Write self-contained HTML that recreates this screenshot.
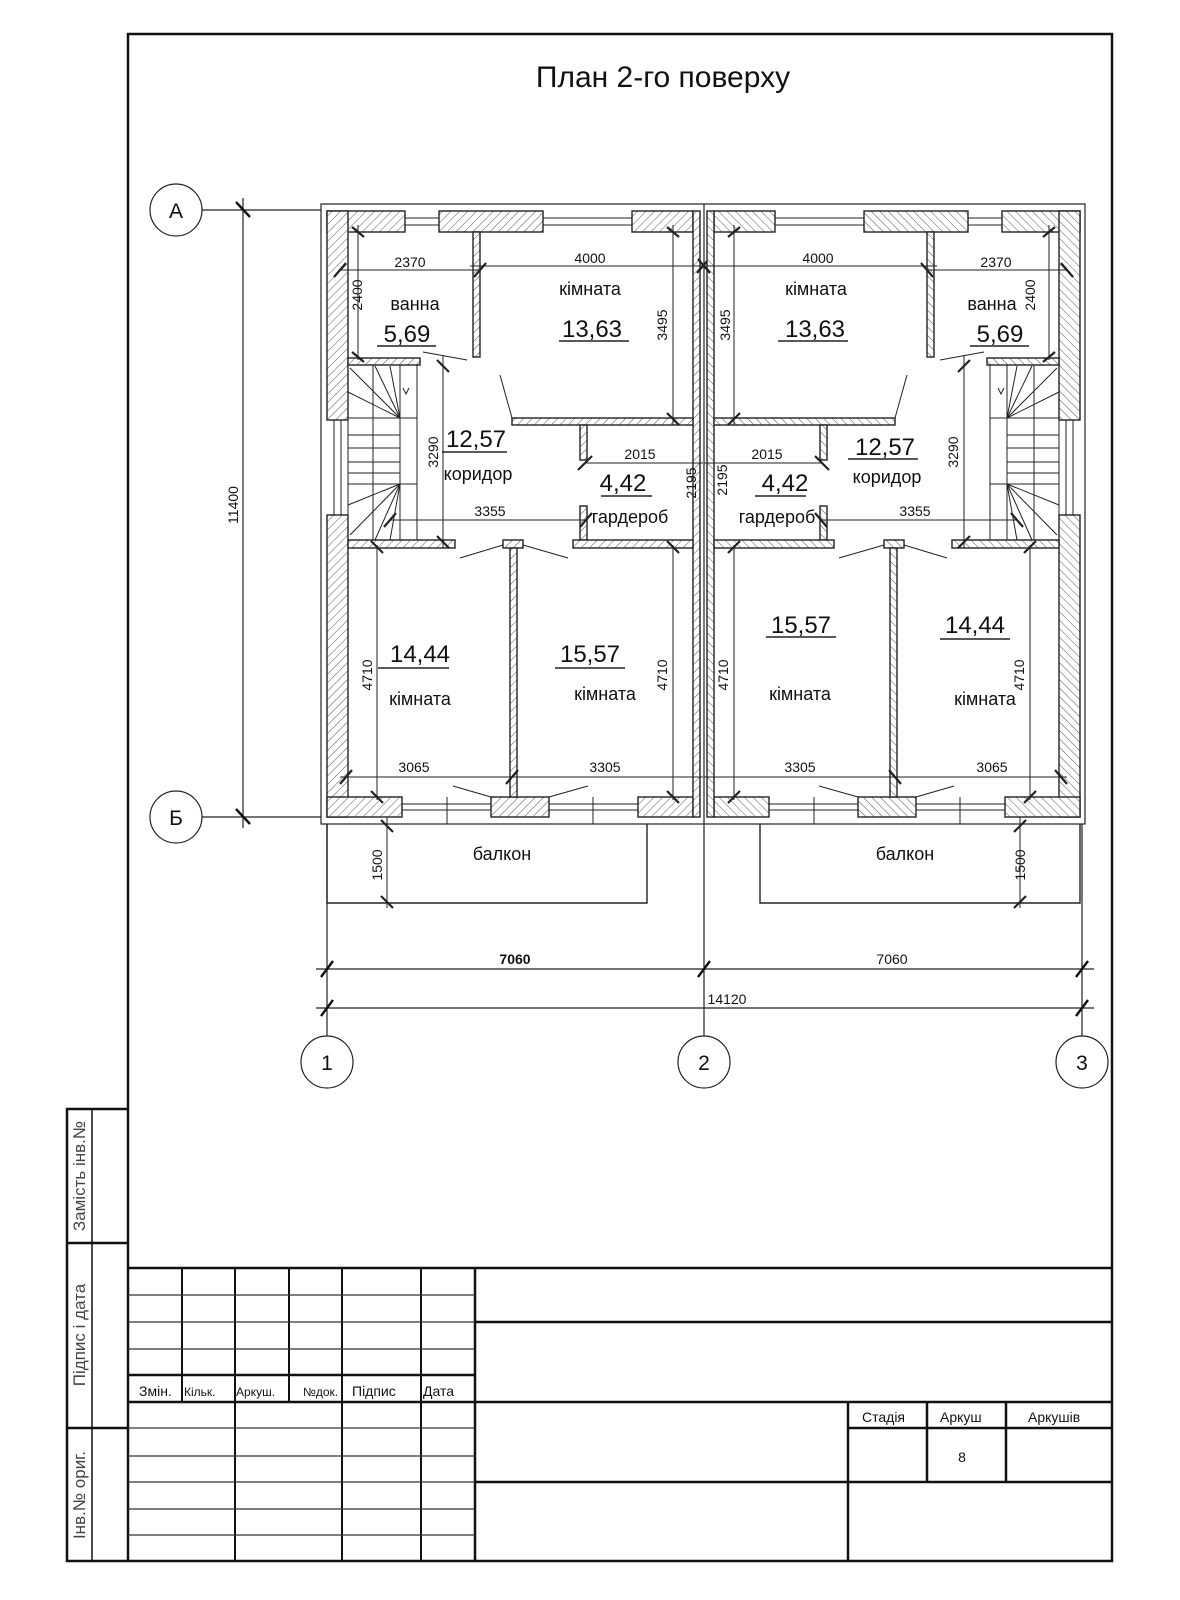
<!DOCTYPE html>
<html><head><meta charset="utf-8"><style>
html,body{margin:0;padding:0;background:#fff;}
svg{display:block;}
text{font-family:"Liberation Sans Narrow","Liberation Sans","DejaVu Sans",sans-serif;fill:#111;}
</style></head><body>
<svg width="1180" height="1600" viewBox="0 0 1180 1600" xmlns="http://www.w3.org/2000/svg">
<defs>
<pattern id="h" patternUnits="userSpaceOnUse" width="6" height="6" patternTransform="rotate(45)">
<rect width="6" height="6" fill="#fff"/><line x1="0" y1="0" x2="0" y2="6" stroke="#555" stroke-width="1"/>
</pattern>
</defs>
<rect width="1180" height="1600" fill="#fff"/>
<g fill="none" stroke="#111" stroke-width="2.5">
<polyline points="128,1561 128,34 1112,34 1112,1561 67,1561 67,1109 128,1109"/>
<line x1="67" y1="1243" x2="128" y2="1243"/>
<line x1="67" y1="1428" x2="128" y2="1428"/>
<line x1="92" y1="1109" x2="92" y2="1561" stroke-width="1.5"/>
<line x1="128" y1="1268" x2="1112" y2="1268"/>
<line x1="475" y1="1322" x2="1112" y2="1322"/>
<line x1="128" y1="1375" x2="475" y2="1375"/>
<line x1="128" y1="1402" x2="1112" y2="1402"/>
<line x1="475" y1="1482" x2="1112" y2="1482"/>
<line x1="848" y1="1428" x2="1112" y2="1428"/>
<line x1="475" y1="1268" x2="475" y2="1561"/>
<line x1="848" y1="1402" x2="848" y2="1561"/>
<line x1="927" y1="1402" x2="927" y2="1482"/>
<line x1="1006" y1="1402" x2="1006" y2="1482"/>
<line x1="182" y1="1268" x2="182" y2="1402" stroke-width="2"/>
<line x1="289" y1="1268" x2="289" y2="1402" stroke-width="2"/>
<line x1="235" y1="1268" x2="235" y2="1561" stroke-width="2"/>
<line x1="342" y1="1268" x2="342" y2="1561" stroke-width="2"/>
<line x1="421" y1="1268" x2="421" y2="1561" stroke-width="2"/>
</g>
<g stroke="#333" stroke-width="1.2">
<line x1="128" y1="1295" x2="475" y2="1295"/>
<line x1="128" y1="1322" x2="475" y2="1322"/>
<line x1="128" y1="1349" x2="475" y2="1349"/>
<line x1="128" y1="1428" x2="475" y2="1428"/>
<line x1="128" y1="1456" x2="475" y2="1456"/>
<line x1="128" y1="1482" x2="475" y2="1482"/>
<line x1="128" y1="1509" x2="475" y2="1509"/>
<line x1="128" y1="1535" x2="475" y2="1535"/>
</g>
<g font-size="14">
<text x="139" y="1396">Змін.</text>
<text x="184" y="1396" font-size="12">Кільк.</text>
<text x="236" y="1396" font-size="12">Аркуш.</text>
<text x="303" y="1396" font-size="12">№док.</text>
<text x="352" y="1396">Підпис</text>
<text x="423" y="1396">Дата</text>
<text x="862" y="1422">Стадія</text>
<text x="940" y="1422">Аркуш</text>
<text x="1028" y="1422">Аркушів</text>
<text x="962" y="1462" text-anchor="middle">8</text>
</g>
<g font-size="17">
<text transform="translate(85,1176) rotate(-90)" text-anchor="middle" style="fill:#444">Замість інв.№</text>
<text transform="translate(85,1335) rotate(-90)" text-anchor="middle" style="fill:#444">Підпис і дата</text>
<text transform="translate(85,1495) rotate(-90)" text-anchor="middle" style="fill:#444">Інв.№ ориг.</text>
</g>
<text x="663" y="87" font-size="30" text-anchor="middle">План 2-го поверху</text>

<rect x="321" y="204" width="764" height="620" fill="none" stroke="#222" stroke-width="1.2"/>

<g id="half" stroke="#222" stroke-width="1.4">
<g fill="url(#h)">
<rect x="327" y="211" width="78" height="21"/>
<rect x="439" y="211" width="104" height="21"/>
<rect x="632" y="211" width="61" height="21"/>
<rect x="327" y="211" width="21" height="209"/>
<rect x="327" y="515" width="21" height="302"/>
<rect x="327" y="797" width="75" height="20"/>
<rect x="491" y="797" width="58" height="20"/>
<rect x="638" y="797" width="55" height="20"/>
<rect x="693" y="211" width="7" height="606"/>
<rect x="473" y="232" width="7" height="125"/>
<rect x="512" y="418" width="181" height="7"/>
<rect x="348" y="358" width="72" height="7"/>
<rect x="580" y="425" width="7" height="35"/>
<rect x="580" y="506" width="7" height="34"/>
<rect x="348" y="540" width="107" height="8"/>
<rect x="503" y="540" width="20" height="8"/>
<rect x="573" y="540" width="120" height="8"/>
<rect x="510" y="548" width="7" height="249"/>
</g>
<g fill="none" stroke-width="1">
<line x1="405" y1="218" x2="439" y2="218"/><line x1="405" y1="225" x2="439" y2="225"/>
<line x1="543" y1="218" x2="632" y2="218"/><line x1="543" y1="225" x2="632" y2="225"/>
<line x1="334" y1="420" x2="334" y2="515"/><line x1="341" y1="420" x2="341" y2="515"/>
<line x1="402" y1="804" x2="491" y2="804"/><line x1="402" y1="810" x2="491" y2="810"/>
<line x1="549" y1="804" x2="638" y2="804"/><line x1="549" y1="810" x2="638" y2="810"/>
<line x1="447" y1="797" x2="447" y2="824"/><line x1="593" y1="797" x2="593" y2="824"/>
<rect x="348" y="365" width="69" height="175"/>
<line x1="373" y1="365" x2="373" y2="540"/><line x1="400" y1="365" x2="400" y2="540"/>
<line x1="348" y1="418" x2="417" y2="418"/><line x1="348" y1="484" x2="417" y2="484"/>
<line x1="348" y1="435" x2="400" y2="435"/><line x1="348" y1="448" x2="400" y2="448"/>
<line x1="348" y1="462" x2="400" y2="462"/><line x1="348" y1="473" x2="400" y2="473"/>
<line x1="400" y1="418" x2="348" y2="392"/><line x1="400" y1="418" x2="350" y2="368"/>
<line x1="400" y1="418" x2="375" y2="366"/><line x1="400" y1="418" x2="390" y2="366"/>
<line x1="400" y1="484" x2="348" y2="505"/><line x1="400" y1="484" x2="350" y2="535"/>
<line x1="400" y1="484" x2="375" y2="540"/><line x1="400" y1="484" x2="390" y2="540"/>
<polyline points="403,388 406,394 409,388"/>
<line x1="423" y1="352" x2="467" y2="360"/>
<line x1="500" y1="375" x2="512" y2="418"/>
<line x1="460" y1="558" x2="503" y2="545"/><line x1="523" y1="545" x2="568" y2="558"/>
<line x1="453" y1="786" x2="491" y2="797"/><line x1="549" y1="797" x2="588" y2="786"/>
<polyline points="327,824 327,903 647,903 647,824" stroke-width="1.4"/>
<line x1="340" y1="270" x2="480" y2="270"/>
<line x1="470" y1="266" x2="703" y2="266"/>
<line x1="673" y1="225" x2="673" y2="425"/>
<line x1="358" y1="225" x2="358" y2="360"/>
<line x1="443" y1="355" x2="443" y2="548"/>
<line x1="390" y1="520" x2="587" y2="520"/>
<line x1="585" y1="463" x2="703" y2="463"/>
<line x1="693" y1="420" x2="693" y2="548"/>
<line x1="377" y1="545" x2="377" y2="800"/>
<line x1="673" y1="545" x2="673" y2="800"/>
<line x1="340" y1="777" x2="703" y2="777"/>
<line x1="387" y1="817" x2="387" y2="908"/>
</g>
<g stroke-width="2.2">
<line x1="334" y1="277" x2="346" y2="263"/><line x1="474" y1="277" x2="486" y2="263"/>
<line x1="697" y1="273" x2="709" y2="259"/><line x1="667" y1="227" x2="679" y2="237"/>
<line x1="667" y1="413" x2="679" y2="425"/><line x1="437" y1="360" x2="449" y2="372"/>
<line x1="437" y1="536" x2="449" y2="548"/><line x1="578" y1="470" x2="592" y2="456"/>
<line x1="384" y1="527" x2="396" y2="513"/><line x1="580" y1="527" x2="592" y2="513"/>
<line x1="371" y1="541" x2="383" y2="553"/><line x1="371" y1="791" x2="383" y2="803"/>
<line x1="667" y1="541" x2="679" y2="553"/><line x1="667" y1="791" x2="679" y2="803"/>
<line x1="340" y1="784" x2="352" y2="770"/><line x1="506" y1="784" x2="518" y2="770"/>
<line x1="381" y1="820" x2="393" y2="832"/><line x1="381" y1="896" x2="393" y2="908"/>
<line x1="352" y1="227" x2="364" y2="237"/><line x1="352" y1="352" x2="364" y2="362"/>
</g>
</g>
<use href="#half" transform="matrix(-1 0 0 1 1407 0)"/>

<g stroke="#222" stroke-width="1.2" fill="none">
<circle cx="176" cy="210" r="26"/>
<circle cx="176" cy="817" r="26"/>
<line x1="202" y1="210" x2="321" y2="210"/>
<line x1="202" y1="817" x2="321" y2="817"/>
<line x1="243" y1="198" x2="243" y2="828"/>
<circle cx="327" cy="1062" r="26"/>
<circle cx="704" cy="1062" r="26"/>
<circle cx="1082" cy="1062" r="26"/>
<line x1="327" y1="824" x2="327" y2="1036"/>
<line x1="704" y1="204" x2="704" y2="1036"/>
<line x1="1082" y1="824" x2="1082" y2="1036"/>
<line x1="316" y1="969" x2="1094" y2="969"/>
<line x1="316" y1="1008" x2="1094" y2="1008"/>
</g>
<g stroke="#111" stroke-width="2.4">
<line x1="236" y1="202" x2="250" y2="217"/><line x1="236" y1="809" x2="250" y2="824"/>
<line x1="321" y1="977" x2="333" y2="961"/><line x1="698" y1="977" x2="710" y2="961"/><line x1="1076" y1="977" x2="1088" y2="961"/>
<line x1="321" y1="1016" x2="333" y2="1000"/><line x1="1076" y1="1016" x2="1088" y2="1000"/>
</g>
<g font-size="21" text-anchor="middle">
<text x="176" y="218">А</text><text x="176" y="825">Б</text>
<text x="327" y="1070">1</text><text x="704" y="1070">2</text><text x="1082" y="1070">3</text>
</g>
<g font-size="14" text-anchor="middle">
<text x="515" y="964" font-weight="bold">7060</text>
<text x="892" y="964">7060</text>
<text x="727" y="1004">14120</text>
<text transform="translate(238,505) rotate(-90)">11400</text>
</g>

<g font-size="18" text-anchor="middle">
<text x="590" y="295">кімната</text><text x="816" y="295">кімната</text>
<text x="415" y="310">ванна</text><text x="992" y="310">ванна</text>
<text x="478" y="480">коридор</text><text x="887" y="483">коридор</text>
<text x="630" y="523">гардероб</text><text x="777" y="523">гардероб</text>
<text x="420" y="705">кімната</text><text x="605" y="700">кімната</text>
<text x="800" y="700">кімната</text><text x="985" y="705">кімната</text>
<text x="502" y="860">балкон</text><text x="905" y="860">балкон</text>
</g>
<g font-size="24" text-anchor="middle">
<text x="592" y="337">13,63</text><text x="815" y="337">13,63</text>
<text x="407" y="342">5,69</text><text x="1000" y="342">5,69</text>
<text x="476" y="447">12,57</text><text x="885" y="455">12,57</text>
<text x="623" y="491">4,42</text><text x="785" y="491">4,42</text>
<text x="420" y="662">14,44</text><text x="975" y="633">14,44</text>
<text x="590" y="662">15,57</text><text x="801" y="633">15,57</text>
</g>
<g stroke="#222" stroke-width="1.5">
<line x1="559" y1="341" x2="629" y2="341"/><line x1="778" y1="341" x2="848" y2="341"/>
<line x1="377" y1="346" x2="436" y2="346"/><line x1="970" y1="346" x2="1029" y2="346"/>
<line x1="442" y1="452" x2="507" y2="452"/><line x1="848" y1="459" x2="918" y2="459"/>
<line x1="601" y1="496" x2="652" y2="496"/><line x1="755" y1="496" x2="806" y2="496"/>
<line x1="378" y1="668" x2="449" y2="668"/><line x1="940" y1="639" x2="1010" y2="639"/>
<line x1="555" y1="668" x2="625" y2="668"/><line x1="766" y1="637" x2="836" y2="637"/>
</g>
<g font-size="14" text-anchor="middle">
<text x="410" y="267">2370</text><text x="996" y="267">2370</text>
<text x="590" y="263">4000</text><text x="818" y="263">4000</text>
<text x="640" y="459">2015</text><text x="767" y="459">2015</text>
<text x="490" y="516">3355</text><text x="915" y="516">3355</text>
<text x="414" y="772">3065</text><text x="992" y="772">3065</text>
<text x="605" y="772">3305</text><text x="800" y="772">3305</text>
<text transform="translate(362,295) rotate(-90)">2400</text>
<text transform="translate(1035,295) rotate(-90)">2400</text>
<text transform="translate(667,325) rotate(-90)">3495</text>
<text transform="translate(730,325) rotate(-90)">3495</text>
<text transform="translate(438,452) rotate(-90)">3290</text>
<text transform="translate(958,452) rotate(-90)">3290</text>
<text transform="translate(696,483) rotate(-90)">2195</text>
<text transform="translate(727,480) rotate(-90)">2195</text>
<text transform="translate(372,675) rotate(-90)">4710</text>
<text transform="translate(667,675) rotate(-90)">4710</text>
<text transform="translate(728,675) rotate(-90)">4710</text>
<text transform="translate(1024,675) rotate(-90)">4710</text>
<text transform="translate(382,865) rotate(-90)">1500</text>
<text transform="translate(1025,865) rotate(-90)">1500</text>
</g>
</svg>
</body></html>
